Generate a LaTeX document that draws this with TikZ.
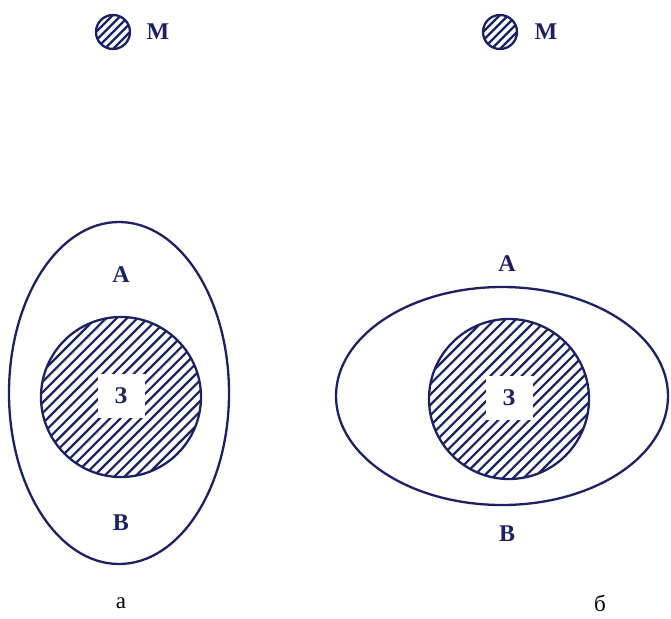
\documentclass[tikz,border=0pt]{standalone}
\usepackage{fontspec}
\setmainfont{Liberation Serif}
\definecolor{navy}{HTML}{1B2163}
\tikzset{
  outline/.style={draw=navy, line width=2.3pt},
  hatch/.style={draw=navy, line width=2.2pt},
  lab/.style={text=navy, font=\fontsize{24}{24}\selectfont\bfseries, inner sep=0pt},
  captxt/.style={text=black, font=\fontsize{23}{23}\selectfont, inner sep=0pt},
  zbox/.style={fill=white, minimum width=47pt, minimum height=44pt, inner sep=0pt, text=navy, font=\fontsize{24}{24}\selectfont\bfseries}
}
\newcommand{\hatchcircle}[4]{% cx, cy, r, step
  \begin{scope}
    \clip (#1,#2) circle (#3);
    \foreach \t in {-160,-156,...,160} {
      \pgfmathsetmacro{\hs}{\t*#4/4}
      \draw[hatch] (#1+\hs-150, #2+150) -- (#1+\hs+150, #2-150);
    }
  \end{scope}
  \draw[outline] (#1,#2) circle (#3);
}
\begin{document}
\begin{tikzpicture}[x=1pt, y=-1pt]
\useasboundingbox (0,0) rectangle (671,618);
% legend
\hatchcircle{113}{32}{17}{8.5}
\node[lab] (m1) at (158,32) {М};
\hatchcircle{500}{32}{17}{8.5}
\node[lab] (m2) at (546,32) {М};
% left figure
\draw[outline] (119,393) ellipse [x radius=110, y radius=171];
\hatchcircle{121}{397}{80}{10.4}
\node[zbox] (z1) at (121,396) {З};
\node[lab] (a1) at (121,275) {А};
\node[lab] (b1) at (121,523) {В};
% right figure
\draw[outline] (502,396) ellipse [x radius=166, y radius=109];
\hatchcircle{509}{399}{80}{10.4}
\node[zbox] (z2) at (509,398) {З};
\node[lab] (a2) at (507,264) {А};
\node[lab] (b2) at (507,534) {В};
% captions
\node[captxt] (ca) at (121,603) {а};
\node[captxt] (cb) at (600,603) {б};
\end{tikzpicture}
\end{document}
